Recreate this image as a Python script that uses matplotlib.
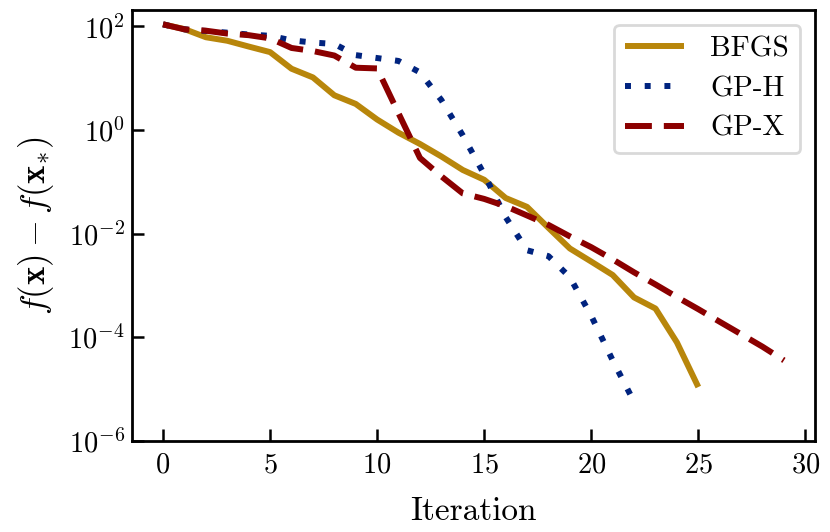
import matplotlib
matplotlib.use("Agg")
import matplotlib.pyplot as plt
import matplotlib.ticker as mticker
import numpy as np

plt.rcParams['font.family'] = 'serif'
plt.rcParams['font.serif'] = ['cmr10', 'DejaVu Serif']
plt.rcParams['mathtext.fontset'] = 'cm'
plt.rcParams['axes.formatter.use_mathtext'] = True
plt.rcParams['axes.unicode_minus'] = True

# ---- data ----
bfgs_vals = [110, 89, 62, 53, 41, 32, 15.3, 10.4, 4.7, 3.2, 1.6, 0.89, 0.54, 0.31,
             0.17, 0.11, 0.049, 0.033, 0.013, 0.0052, 0.0029, 0.0016, 5.9e-4,
             3.6e-4, 8e-5, 1.1e-5]
gph_vals = [110, 88, 82, 76, 70, 66, 54, 49, 46, 28, 24.6, 21.6, 13, 3.8, 0.79,
            0.14, 0.021, 0.0048, 0.0037, 0.00145, 2.6e-4, 3.6e-5, 5.7e-6]
gpx_vals = [110, 88, 83, 73, 68, 59, 38.5, 33.6, 27.5, 16, 15.5, 2.1, 0.29, 0.128,
            0.060, 0.047, 0.034, 0.0225, 0.0148, 0.0089, 0.0055, 0.0032, 0.0018,
            0.00105, 6.0e-4, 3.5e-4, 2.0e-4, 1.15e-4, 6.6e-5, 3.6e-5]
labels = ['BFGS', 'GP-H', 'GP-X']
xticks = [0, 5, 10, 15, 20, 25, 30]
yticks = [1e2, 1e0, 1e-2, 1e-4, 1e-6]

fig = plt.figure(figsize=(8.30, 5.32), dpi=100)
ax = fig.add_axes([132/830, 1 - 441/532, (815 - 132)/830, (441 - 10)/532])

lw = 4.3
ax.plot(np.arange(len(bfgs_vals)), bfgs_vals, color='#b8860b', lw=lw,
        solid_capstyle='butt', label=labels[0])
l2, = ax.plot(np.arange(len(gph_vals)), gph_vals, color='#00237f', lw=lw,
              label=labels[1])
l2.set_dashes((1.0, 2.3))
l3, = ax.plot(np.arange(len(gpx_vals)), gpx_vals, color='#8b0000', lw=lw,
              label=labels[2])
l3.set_dashes((4.5, 2.0))

ax.set_yscale('log')
ax.set_ylim(1e-6, 208)
ax.set_xlim(-1.45, 30.45)
ax.set_xticks(xticks)
ax.set_yticks(yticks)
ax.yaxis.set_major_formatter(mticker.LogFormatterMathtext())
ax.yaxis.set_minor_locator(mticker.NullLocator())
ax.xaxis.set_minor_locator(mticker.NullLocator())

for s in ax.spines.values():
    s.set_linewidth(2.0)
ax.tick_params(direction='in', length=8.5, width=1.8, labelsize=20.5)
ax.tick_params(axis='y', pad=5)
ax.tick_params(axis='x', pad=8)

ax.set_xlabel('Iteration', fontsize=24, labelpad=13)
ax.set_ylabel(r'$f(\mathbf{x}) - f(\mathbf{x}_{*})$', fontsize=25, labelpad=9)

leg = ax.legend(loc='upper right', fontsize=21, handlelength=2.0,
                handletextpad=0.9, labelspacing=0.45, fancybox=True,
                framealpha=1.0, edgecolor='#d9d9d9')
leg.get_frame().set_linewidth(2.0)

fig.savefig('out.png', dpi=100)
